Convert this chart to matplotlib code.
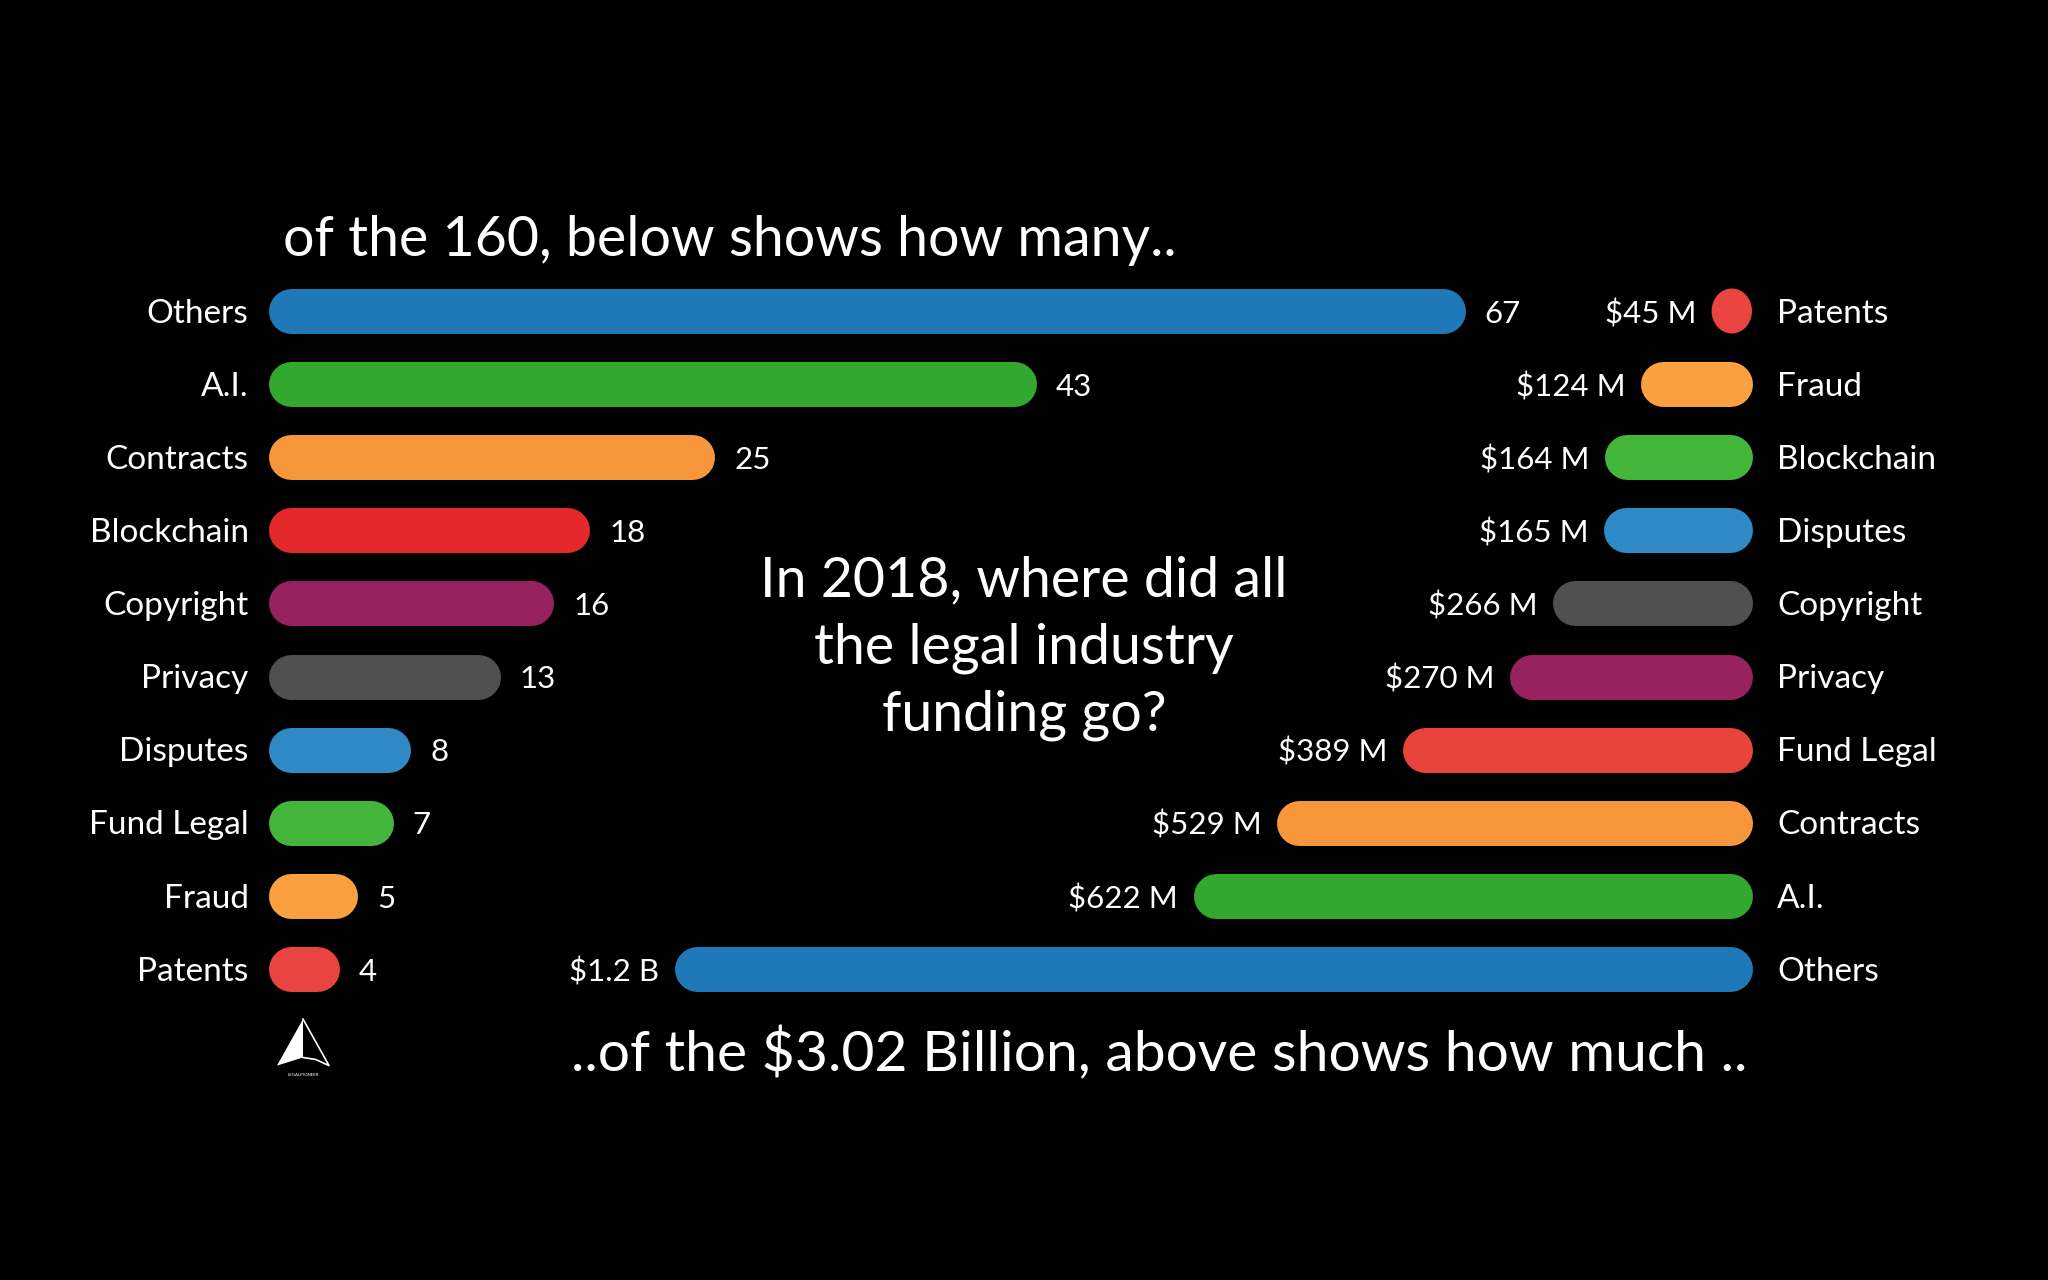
import numpy as np
import matplotlib
matplotlib.use("Agg")
import matplotlib.pyplot as plt
from matplotlib.patches import Ellipse, Polygon

plt.rcParams['font.family'] = ['Lato', 'DejaVu Sans']

# left side: number of companies per category (of 160)
count_cats = ['Others', 'A.I.', 'Contracts', 'Blockchain', 'Copyright',
              'Privacy', 'Disputes', 'Fund Legal', 'Fraud', 'Patents']
count_vals = [67, 43, 25, 18, 16, 13, 8, 7, 5, 4]
count_colors = ['#1f78b8', '#33a82f', '#f7963b', '#e4282b', '#96215e',
                '#505050', '#2e89c5', '#44b53b', '#fba040', '#ea4440']

# right side: funding per category ($M, of $3.02 B)
fund_cats = ['Patents', 'Fraud', 'Blockchain', 'Disputes', 'Copyright',
             'Privacy', 'Fund Legal', 'Contracts', 'A.I.', 'Others']
fund_vals = [45, 124, 164, 165, 222, 270, 389, 529, 622, 1200]  # bar lengths as drawn
fund_labels = ['$45 M', '$124 M', '$164 M', '$165 M', '$266 M',
               '$270 M', '$389 M', '$529 M', '$622 M', '$1.2 B']
fund_colors = ['#ea4440', '#fba040', '#43b53b', '#2e89c5', '#505050',
               '#98225e', '#e8443c', '#f7963b', '#33a82f', '#1f78b8']

# layout (pixels of a 2048x1280 canvas)
W, H = 2048, 1280
row0_px, row_px = 311, 73.1     # first row centre, row spacing
bar_px = 45                     # bar thickness
left_x0, left_scale = 268, 17.87   # px where count=0, px per company
right_x0, right_scale = 1752, 0.898  # px where $0, px per $M

fig = plt.figure(figsize=(W / 100, H / 100), dpi=100, facecolor='black')

ylim = ((H - row0_px) / row_px, -row0_px / row_px)

ax_l = fig.add_axes([0, 0, 1, 1])
ax_l.set_xlim(-left_x0 / left_scale, (W - left_x0) / left_scale)
ax_l.set_ylim(*ylim)
ax_l.axis('off')

ax_r = fig.add_axes([0, 0, 1, 1])
ax_r.set_xlim(right_x0 / right_scale, -(W - right_x0) / right_scale)
ax_r.set_ylim(*ylim)
ax_r.axis('off')
ax_r.patch.set_alpha(0)


def pill(ax, value, y, color, px_per_unit):
    r = bar_px / 2 / px_per_unit
    if value <= 2 * r:
        ax.add_patch(Ellipse((value / 2, y), value, bar_px / row_px,
                             color=color, lw=0))
    else:
        ax.plot([r, value - r], [y, y], color=color, lw=bar_px * 0.72,
                solid_capstyle='round')


cat_kw = dict(color='white', fontsize=24, va='center')
val_kw = dict(color='white', fontsize=22.5, va='center')

for i, (cat, v, c) in enumerate(zip(count_cats, count_vals, count_colors)):
    pill(ax_l, v, i, c, left_scale)
    ax_l.annotate(str(v), (v, i), xytext=(14, -2), textcoords='offset points',
                  ha='left', **val_kw)
    ax_l.annotate(cat, (0, i), xytext=(-14, -2), textcoords='offset points',
                  ha='right', **cat_kw)

for i, (cat, v, lab, c) in enumerate(zip(fund_cats, fund_vals, fund_labels, fund_colors)):
    pill(ax_r, v, i, c, right_scale)
    ax_r.annotate(lab, (v, i), xytext=(-11, -2), textcoords='offset points',
                  ha='right', **val_kw)
    ax_r.annotate(cat, (0, i), xytext=(18, -2), textcoords='offset points',
                  ha='left', **cat_kw)

# titles
fig.text(283 / W, 1 - 240 / H, 'of the 160, below shows how many..',
         color='white', fontsize=40, ha='left', va='center')
fig.text(1159 / W, 1 - 1054 / H, '..of the $3.02 Billion, above shows how much ..',
         color='white', fontsize=41, ha='center', va='center')
fig.text(1024 / W, 1 - 648 / H,
         'In 2018, where did all\nthe legal industry\nfunding go?',
         color='white', fontsize=40, ha='center', va='center',
         linespacing=1.38)

# small logo
ax_logo = fig.add_axes([272 / W, 1 - 1078 / H, 62 / W, 62 / H])
ax_logo.set_xlim(0, 1)
ax_logo.set_ylim(0, 1)
ax_logo.axis('off')
ax_logo.patch.set_alpha(0)
ax_logo.add_patch(Polygon([[0.5, 0.95], [0.08, 0.2], [0.5, 0.33]],
                          closed=True, color='white', lw=0))
ax_logo.plot([0.5, 0.92, 0.7, 0.5], [0.95, 0.2, 0.3, 0.33],
             color='white', lw=1.2)
ax_logo.text(0.5, 0.05, 'LEGALPIONEER', color='white', fontsize=3.2,
             ha='center', va='center')

fig.savefig('out.png', dpi=100, facecolor='black')
